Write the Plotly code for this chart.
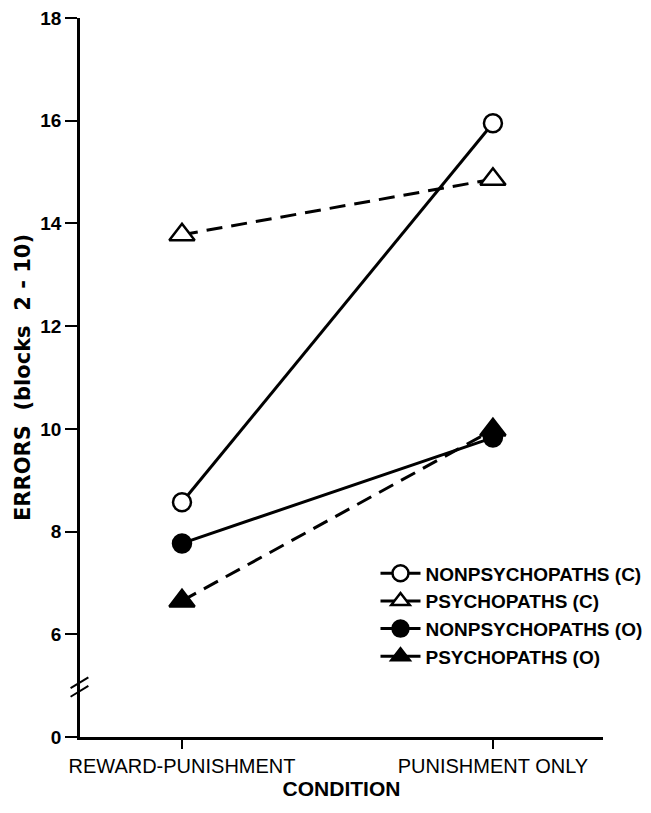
import plotly.graph_objects as go

conditions = ["REWARD-PUNISHMENT", "PUNISHMENT ONLY"]
nonpsych_c = [8.57, 15.95]
psych_c = [13.78, 14.86]
nonpsych_o = [7.77, 9.83]
psych_o = [6.65, 9.98]

# y-axis has a break: the "0" label sits just below the break
ytick_vals = [4, 6, 8, 10, 12, 14, 16, 18]
ytick_text = ["0", "6", "8", "10", "12", "14", "16", "18"]

series = [
    ("NONPSYCHOPATHS (C)", nonpsych_c, "circle", "white", "solid"),
    ("PSYCHOPATHS (C)", psych_c, "triangle-up", "white", "16px,9px"),
    ("NONPSYCHOPATHS (O)", nonpsych_o, "circle", "black", "solid"),
    ("PSYCHOPATHS (O)", psych_o, "triangle-up", "black", "16px,9px"),
]

fig = go.Figure()
for name, vals, sym, fill, dash in series:
    fig.add_trace(go.Scatter(
        x=conditions, y=vals, name=name, mode="lines+markers",
        line=dict(color="black", width=3, dash=dash),
        marker=dict(symbol=sym, size=22 if sym == "triangle-up" else 18,
                    color=fill, line=dict(color="black", width=2.5)),
    ))

# page body has an 8px default margin, so the figure is 8px smaller
fig.update_layout(
    width=643, height=805,
    margin=dict(l=72, r=48, t=10, b=76, autoexpand=False),
    paper_bgcolor="white", plot_bgcolor="white",
    font=dict(family="Liberation Sans", color="black", size=17),
    showlegend=True,
    legend=dict(x=0.565, y=0.254, xanchor="left", yanchor="top",
                font=dict(family="Liberation Sans", size=19, weight="bold"),
                bgcolor="rgba(0,0,0,0)", tracegroupgap=0, itemwidth=40),
)
fig.update_xaxes(
    type="category", range=[-0.328, 1.354], automargin=False,
    showline=True, linecolor="black", linewidth=2.5,
    ticks="outside", ticklen=9, tickwidth=2, tickcolor="black",
    showgrid=False, zeroline=False,
    tickfont=dict(family="Liberation Sans", size=20),
    title=dict(text="CONDITION", font=dict(family="Liberation Sans", size=21, weight="bold"), standoff=6),
)
fig.update_yaxes(
    range=[4, 18], tickvals=ytick_vals, ticktext=ytick_text, automargin=False,
    ticklabeloverflow="allow",
    showline=True, linecolor="black", linewidth=2.5,
    ticks="outside", ticklen=12, tickwidth=2, tickcolor="black",
    showgrid=False, zeroline=False,
    tickfont=dict(family="Liberation Sans", size=19, weight="bold"),
    title=dict(text="ERRORS\u00a0\u00a0(blocks\u00a0 2\u00a0-\u00a010)",
               font=dict(family="DejaVu Sans", size=21, weight="bold"), standoff=4),
)

# axis break marks
for dy in (0.0, 0.012):
    fig.add_shape(type="line", xref="paper", yref="paper",
                  x0=-0.018, x1=0.016, y0=0.056 + dy, y1=0.071 + dy,
                  line=dict(color="black", width=2))

fig.write_html("out.html")
